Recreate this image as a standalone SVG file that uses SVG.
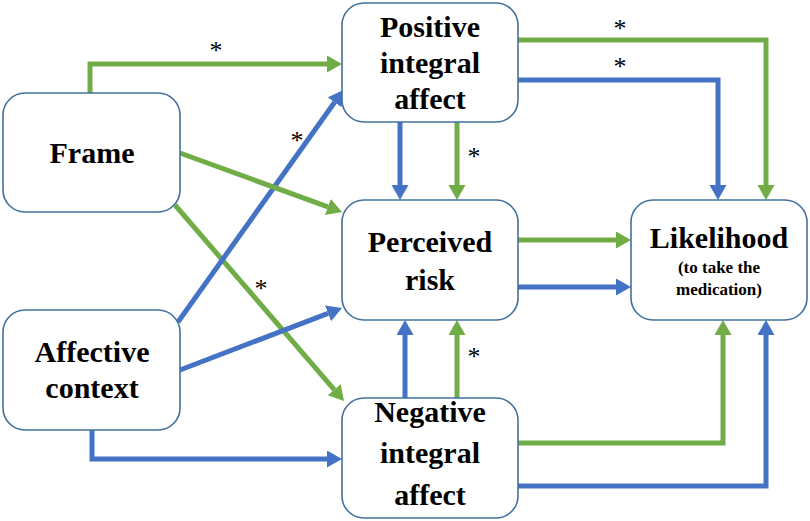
<svg xmlns="http://www.w3.org/2000/svg" width="810" height="521" viewBox="0 0 810 521">
<style>
.box{fill:#fff;stroke:#41719C;stroke-width:1.6}
.t{font-family:"Liberation Serif","Times New Roman",serif;font-weight:bold;font-size:30px;fill:#000;text-anchor:middle}
.s{font-family:"Liberation Serif","Times New Roman",serif;font-weight:bold;font-size:17px;fill:#000;text-anchor:middle}
.a{font-family:"Liberation Serif","Times New Roman",serif;font-size:26px;fill:#000;stroke:none;text-anchor:middle}
.g{fill:none;stroke:#70AD47;stroke-width:5}
.b{fill:none;stroke:#4472C4;stroke-width:5}
</style>
<defs>
<marker id="mg" markerUnits="userSpaceOnUse" markerWidth="16" markerHeight="18" refX="0" refY="8.5" orient="auto"><path d="M0,0 L15,8.5 L0,17 z" fill="#70AD47"/></marker>
<marker id="mb" markerUnits="userSpaceOnUse" markerWidth="16" markerHeight="18" refX="0" refY="8.5" orient="auto"><path d="M0,0 L15,8.5 L0,17 z" fill="#4472C4"/></marker>
</defs>
<g id="connectors">
<path class="g" d="M90,93 V64 H327" marker-end="url(#mg)"/>
<path class="g" d="M518,40 H766 V185" marker-end="url(#mg)"/>
<path class="b" d="M518,80 H718 V185" marker-end="url(#mb)"/>
<path class="b" d="M400,122 V185" marker-end="url(#mb)"/>
<path class="g" d="M457,122 V185" marker-end="url(#mg)"/>
<path class="g" d="M518,240 H616" marker-end="url(#mg)"/>
<path class="b" d="M518,287 H616" marker-end="url(#mb)"/>
<path class="b" d="M405,398 V335" marker-end="url(#mb)"/>
<path class="g" d="M457,398 V335" marker-end="url(#mg)"/>
<path class="g" d="M518,443 H723 V335" marker-end="url(#mg)"/>
<path class="b" d="M518,486 H766 V335" marker-end="url(#mb)"/>
<path class="g" d="M175,205 L334.2,389.6" marker-end="url(#mg)"/>
<path class="b" d="M178,322 L334.6,102.3" marker-end="url(#mb)"/>
<path class="g" d="M180,153 L327.9,206.9" marker-end="url(#mg)"/>
<path class="b" d="M180,370 L328,313.4" marker-end="url(#mb)"/>
<path class="b" d="M92,430 V459 H327" marker-end="url(#mb)"/>
</g>
<g id="labels">
<text class="a" x="216" y="59">*</text>
<text class="a" x="620" y="37">*</text>
<text class="a" x="620" y="75">*</text>
<text class="a" x="474" y="165">*</text>
<text class="a" x="297" y="149">*</text>
<text class="a" x="261" y="297">*</text>
<text class="a" x="474" y="365">*</text>
</g>
<g id="frame">
<rect class="box" x="3" y="93" width="177" height="119" rx="22"/>
<text class="t" x="92" y="163">Frame</text>
</g>
<g id="affective">
<rect class="box" x="3" y="310" width="177" height="120" rx="22"/>
<text class="t" x="92" y="362">Affective</text>
<text class="t" x="92" y="398">context</text>
</g>
<g id="positive">
<rect class="box" x="342" y="3" width="176" height="119" rx="22"/>
<text class="t" x="430" y="37">Positive</text>
<text class="t" x="430" y="73">integral</text>
<text class="t" x="430" y="109">affect</text>
</g>
<g id="perceived">
<rect class="box" x="342" y="200" width="176" height="120" rx="22"/>
<text class="t" x="430" y="252">Perceived</text>
<text class="t" x="430" y="290">risk</text>
</g>
<g id="negative">
<rect class="box" x="342" y="398" width="176" height="120" rx="22"/>
<text class="t" x="430" y="422">Negative</text>
<text class="t" x="430" y="463">integral</text>
<text class="t" x="430" y="505">affect</text>
</g>
<g id="likelihood">
<rect class="box" x="631" y="200" width="176" height="120" rx="22"/>
<text class="t" x="719" y="248">Likelihood</text>
<text class="s" x="719" y="273">(to take the</text>
<text class="s" x="719" y="295">medication)</text>
</g>
</svg>
